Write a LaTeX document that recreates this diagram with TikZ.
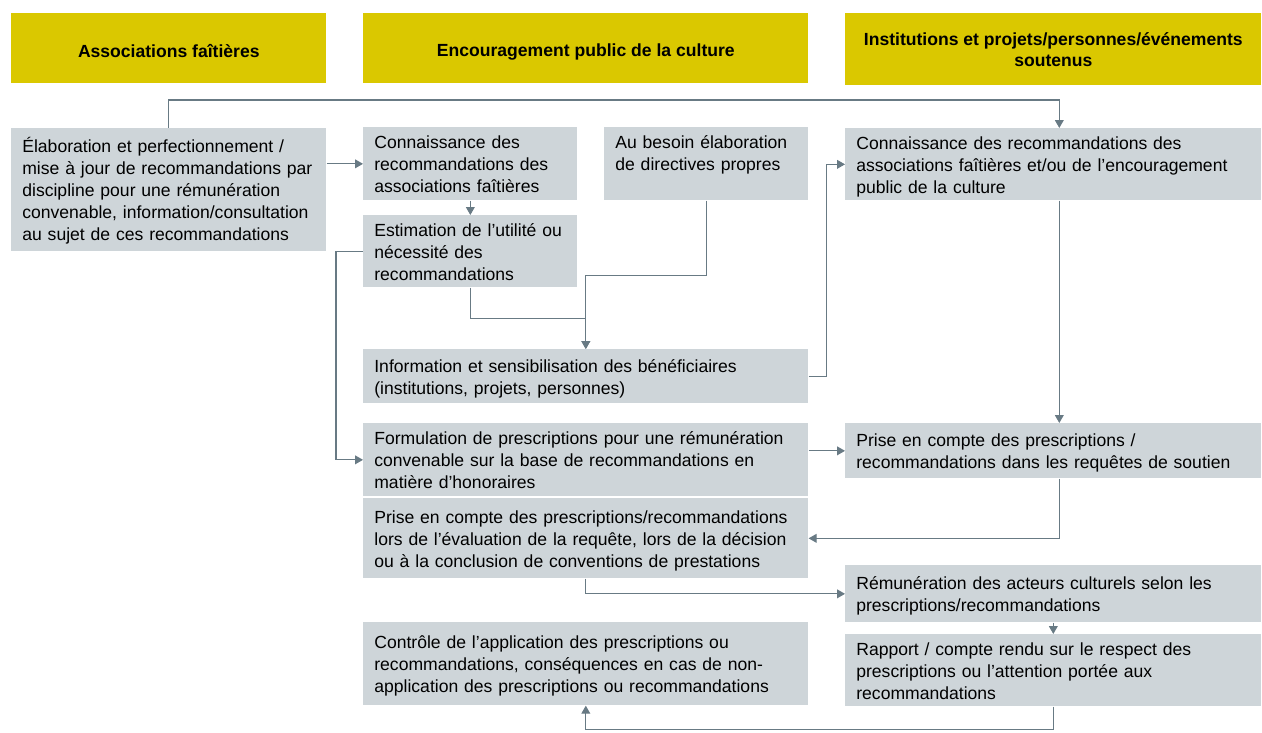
\documentclass[tikz,border=0pt]{standalone}
\usepackage{fontspec}
\setmainfont{Liberation Sans}
\usetikzlibrary{arrows.meta}
\definecolor{headyellow}{RGB}{218,200,0}
\definecolor{boxgray}{RGB}{206,213,217}
\definecolor{linegray}{RGB}{104,122,132}

\begin{document}
\begin{tikzpicture}[x=0.02cm,y=-0.02cm,
  every node/.style={font=\fontsize{10}{12.5}\selectfont},
  head/.style={fill=headyellow,anchor=north west,align=center,inner sep=0pt,font=\fontsize{10}{12}\selectfont\bfseries,
    execute at begin node={\rule{0pt}{11pt}}},
  box/.style={fill=boxgray,anchor=north west,align=left,inner xsep=0.22cm,inner ysep=0pt,
    execute at begin node={\rule{0pt}{10.3pt}},execute at end node={\rule[-2.5pt]{0pt}{2.5pt}}},
  flow/.style={draw=linegray,line width=0.6pt,-{Triangle[width=5pt,length=4.5pt]}}]
\useasboundingbox (0,0) rectangle (1262,733);

\node[head,minimum width=6.30cm,minimum height=1.40cm] (H1) at (11,13) {Associations faîtières};
\node[head,minimum width=8.90cm,minimum height=1.40cm] (H2) at (363,13) {Encouragement public de la culture};
\node[head,minimum width=8.32cm,minimum height=1.44cm] (H3) at (845,13) {Institutions et projets/personnes/événements\\soutenus};

\node[box,text width=5.86cm,minimum height=2.46cm] (A) at (11,128) {Élaboration et perfectionnement /\\mise à jour de recommandations par\\discipline pour une rémunération\\convenable, information/consultation\\au sujet de ces recommandations};

\node[box,text width=3.84cm,minimum height=1.46cm] (B1) at (363,127) {Connaissance des\\recommandations des\\associations faîtières};
\node[box,text width=3.64cm,minimum height=1.46cm] (B2) at (604,127) {Au besoin élaboration\\de directives propres\\\mbox{}};
\node[box,text width=3.84cm,minimum height=1.44cm] (B3) at (363,215) {Estimation de l’utilité ou\\nécessité des\\recommandations};
\node[box,text width=8.46cm,minimum height=1.08cm] (B4) at (363,349) {Information et sensibilisation des bénéficiaires\\(institutions, projets, personnes)};
\node[box,text width=8.46cm,minimum height=1.46cm] (B5) at (363,423) {Formulation de prescriptions pour une rémunération\\convenable sur la base de recommandations en\\matière d’honoraires};
\node[box,text width=8.46cm,minimum height=1.60cm] (B6) at (363,498) {Prise en compte des prescriptions/recommandations\\lors de l’évaluation de la requête, lors de la décision\\ou à la conclusion de conventions de prestations};
\node[box,text width=8.46cm,minimum height=1.66cm] (B7) at (363,622) {Contrôle de l’application des prescriptions ou\\recommandations, conséquences en cas de non-\\application des prescriptions ou recommandations};

\node[box,text width=7.88cm,minimum height=1.44cm] (C1) at (845,128) {Connaissance des recommandations des\\associations faîtières et/ou de l’encouragement\\public de la culture};
\node[box,text width=7.88cm,minimum height=1.10cm] (C2) at (845,423) {Prise en compte des prescriptions /\\recommandations dans les requêtes de soutien};
\node[box,text width=7.88cm,minimum height=1.14cm] (C3) at (845,565) {Rémunération des acteurs culturels selon les\\prescriptions/recommandations};
\node[box,text width=7.88cm,minimum height=1.44cm] (C4) at (845,634) {Rapport / compte rendu sur le respect des\\prescriptions ou l’attention portée aux\\recommandations};

\draw[flow] (A.north) -- ++(0,-28) -| ([xshift=0.12cm]C1.north);
\draw[flow] (B1.west -| A.east) -- (B1.west);
\draw[flow] (B1.south) -- (B3.north);
\draw[flow] (B3.south) -- ++(0,31) -| (B4.north);
\draw[flow] (B2.south) -- ++(0,75) -| (B4.north);
\draw[flow] (B4.east) -- ++(18,0) |- (C1.west);
\draw[flow] (B3.west) -- ++(-27,0) |- (B5.west);
\draw[flow] (C2.west -| B5.east) -- (C2.west);
\draw[flow] ([xshift=0.12cm]C1.south) -- ([xshift=0.12cm]C2.north);
\draw[flow] ([xshift=0.12cm]C2.south) |- (B6.east);
\draw[flow] (B6.south) |- (C3.west);
\draw[flow] (C3.south) -- (C4.north);
\draw[flow] (C4.south) -- ++(0,23) -| (B7.south);
\end{tikzpicture}
\end{document}
